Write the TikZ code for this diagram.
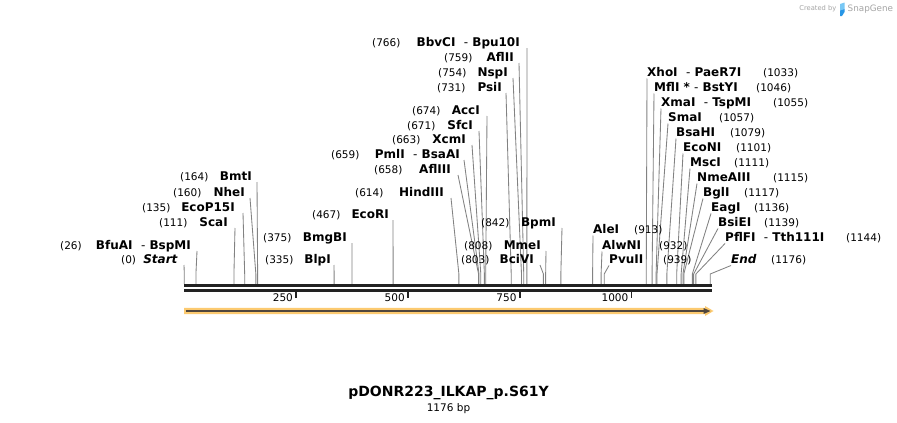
\documentclass[tikz,border=0pt]{standalone}
\usepackage{fontspec}
\setmainfont{DejaVu Sans}[ItalicFont={DejaVu Sans Oblique},BoldItalicFont={DejaVu Sans Bold Oblique}]
\definecolor{leadc}{RGB}{130,130,130}
\definecolor{barc}{RGB}{34,34,34}
\definecolor{orband}{RGB}{252,202,112}
\definecolor{ordark}{RGB}{80,70,60}
\definecolor{logogray}{RGB}{165,165,165}
\definecolor{logoblue}{RGB}{40,150,230}
\definecolor{logolight}{RGB}{120,200,245}
\tikzset{
  leader/.style={draw=leadc, line width=0.85pt},
  nm/.style={inner sep=0pt, font=\fontsize{12}{14}\selectfont\bfseries},
  num/.style={inner sep=0pt, font=\fontsize{10.5}{12}\selectfont},
}
\begin{document}
\begin{tikzpicture}[x=1pt,y=-1pt]
\useasboundingbox (0,0) rectangle (897,423);
\fill[white] (0,0) rectangle (897,423);

% left-side labels
\foreach \bp/\ly/\ex/\tx/\nx/\nm [count=\i] in {
 0/259/178/184/121/{\textit{Start}},
 26/245/191/197/60/{BfuAI~~\textmd{-}~BspMI},
 111/222/228/235/159/{ScaI},
 135/207/235/243/142/{EcoP15I},
 160/192/245/250/173/{NheI},
 164/176/252/257/180/{BmtI},
 335/259/331/334/265/{BlpI},
 375/237/347/352/263/{BmgBI},
 467/214/389/393/312/{EcoRI},
 614/192/444/451/355/{HindIII},
 658/169/451/458/374/{AflIII},
 659/154/460/464/331/{PmlI~~\textmd{-}~BsaAI},
 663/139/466/472/392/{XcmI},
 671/125/473/479/407/{SfcI},
 674/110/480/487/412/{AccI},
 731/87/502/506/437/{PsiI},
 754/72/508/513/438/{NspI},
 759/57/514/519/444/{AflII},
 766/42/520/527/372/{BbvCI~~\textmd{-}~Bpu10I},
 803/259/534/540/461/{BciVI},
 808/245/541/546/464/{MmeI},
 842/222/556/562/481/{BpmI}}
{
  \pgfmathsetmacro\s{184.3+0.4472*\bp}
  \node[nm, anchor=base east] (L\i) at (\ex,\ly+4.3) {\nm};
  \node[num, anchor=base west] (LN\i) at (\nx,\ly+4) {(\bp)};
  \coordinate (LT\i) at (\tx,\ly+6);
  \coordinate (LK\i) at (\s,274);
  \coordinate (LS\i) at (\s,284);
  \draw[leader] (LT\i) -- (LK\i) -- (LS\i);
}

% right-side labels
\foreach \bp/\ly/\sx/\nx/\nm [count=\i] in {
 1033/72/647/763/{XhoI~~\textmd{-}~PaeR7I},
 1046/87/654/756/{MflI~*~\textmd{-}~BstYI},
 1055/102/661/773/{XmaI~~\textmd{-}~TspMI},
 1057/117/668/719/{SmaI},
 1079/132/676/730/{BsaHI},
 1101/147/683/736/{EcoNI},
 1111/162/690/734/{MscI},
 1115/177/697/773/{NmeAIII},
 1117/192/703/744/{BglI},
 1136/207/711/754/{EagI},
 1139/222/718/764/{BsiEI},
 1144/237/725/846/{PflFI~~\textmd{-}~Tth111I},
 1176/259/731/771/{\textit{End}},
 913/229/593/634/{AleI},
 932/245/602/659/{AlwNI},
 939/259/609/663/{PvuII}}
{
  \pgfmathsetmacro\s{184.3+0.4472*\bp}
  \node[nm, anchor=base west] (R\i) at (\sx,\ly+4.3) {\nm};
  \node[num, anchor=base west] (RN\i) at (\nx,\ly+4) {(\bp)};
  \coordinate (RT\i) at (\sx,\ly+6.5);
  \coordinate (RK\i) at (\s,274);
  \coordinate (RS\i) at (\s,284);
  \draw[leader] (RT\i) -- (RK\i) -- (RS\i);
}

% sequence bar
\draw[barc, line width=2.6pt] (184,285.7) -- (711.5,285.7);
\draw[barc, line width=2.6pt] (184,290.2) -- (711.5,290.2);

% ticks
\foreach \t in {250,500,750,1000}{
  \pgfmathsetmacro\tk{184.3+0.4472*\t}
  \draw[barc, line width=1.8pt] (\tk,291) -- (\tk,297.5);
  \node[num, anchor=base east] (T\t) at (\tk-3,301) {\t};
}

% feature arrow
\fill[orband] (184,307.8) -- (705,307.8) -- (705,306) -- (713.5,311) -- (705,316) -- (705,314.2) -- (184,314.2) -- cycle;
\draw[ordark, line width=2.3pt] (185.5,311) -- (704,311);
\fill[ordark] (703.5,308) -- (710.5,311) -- (703.5,314) -- cycle;

% title
\node[inner sep=0pt, font=\fontsize{14}{16}\selectfont\bfseries, anchor=base] (title) at (448.5,396.5) {pDONR223\_ILKAP\_p.S61Y};
\node[num, anchor=base] (len) at (448.5,411.5) {1176 bp};

% SnapGene credit
\node[inner sep=0pt, anchor=base east, text=logogray, font=\fontsize{6.7}{8}\selectfont] (cb) at (836.5,10.5) {Created by};
\fill[logolight] (840,4) -- (844.5,2.5) -- (844.5,9) -- (840,10.5) -- cycle;
\fill[logoblue] (840,10.5) -- (844.5,9) -- (844.5,12) -- (842,16) -- (840,16) -- cycle;
\node[inner sep=0pt, anchor=base west, text=logogray, font=\fontsize{8.8}{10}\selectfont] (sg) at (847.5,11) {SnapGene};
\end{tikzpicture}
\end{document}
